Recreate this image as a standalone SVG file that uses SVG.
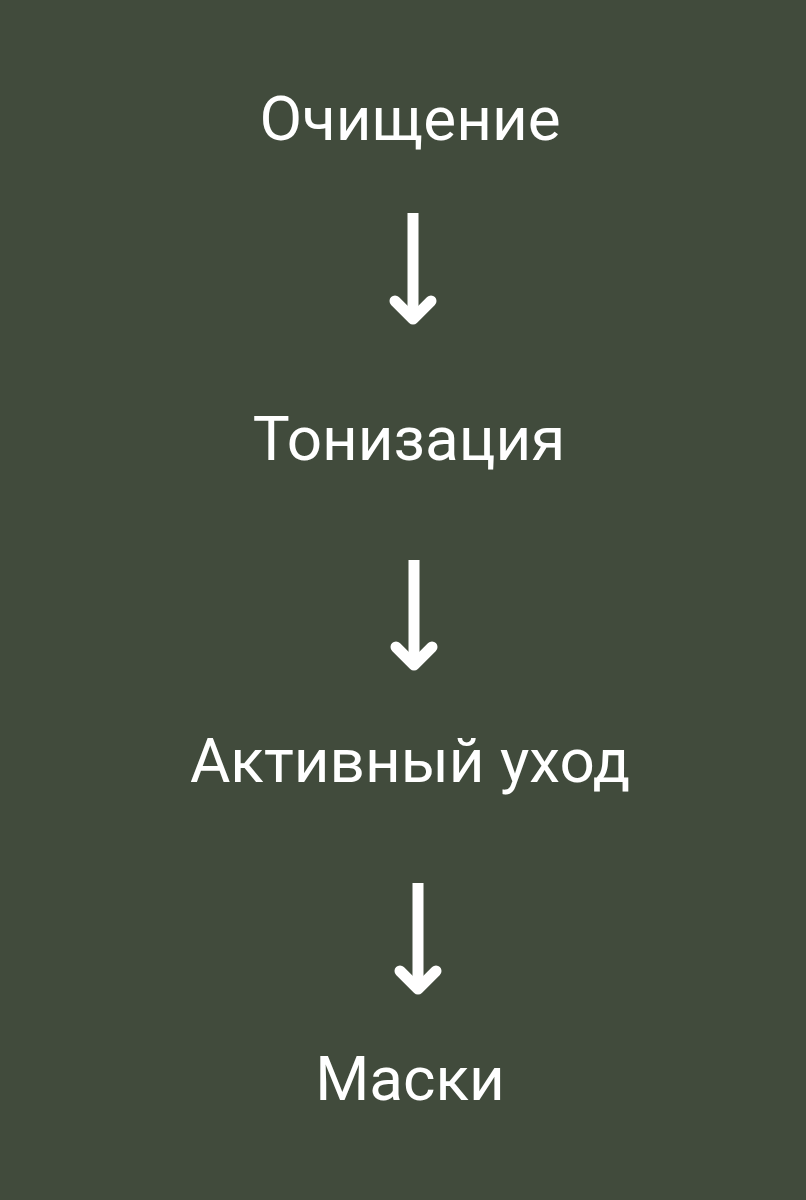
<svg xmlns="http://www.w3.org/2000/svg" width="806" height="1200" viewBox="0 0 806 1200">
<style>
.t{font-family:Roboto,"Noto Sans","Liberation Sans",sans-serif;font-size:62px;fill:#ffffff;text-anchor:middle}
.s{fill:none;stroke:#ffffff;stroke-width:11;stroke-linecap:butt}
.h{fill:none;stroke:#ffffff;stroke-width:11;stroke-linecap:round;stroke-linejoin:round}
</style>
<rect width="806" height="1200" fill="#414b3c"/>
<g id="n1"><text class="t" x="410" y="140">Очищение</text></g>
<g id="n2"><text class="t" x="409" y="460">Тонизация</text></g>
<g id="n3"><text class="t" x="410" y="782">Активный уход</text></g>
<g id="n4"><text class="t" x="410" y="1100">Маски</text></g>
<g id="connectors">
<path class="s" d="M413 213V319"/>
<path class="h" d="M395 301L413 319L431 301"/>
<path class="s" d="M414 560V665"/>
<path class="h" d="M396 647L414 665L432 647"/>
<path class="s" d="M418 883V989"/>
<path class="h" d="M400 971L418 989L436 971"/>
</g>
</svg>
